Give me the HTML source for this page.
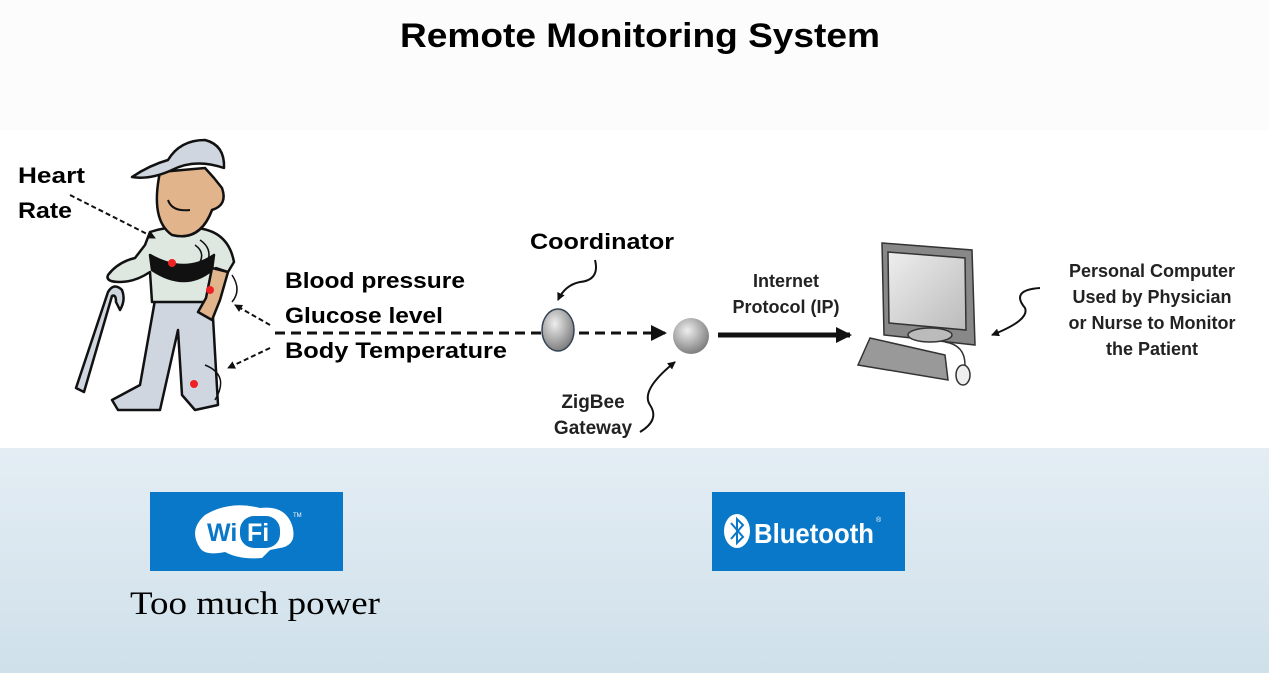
<!DOCTYPE html>
<html><head><meta charset="utf-8"><style>
html,body{margin:0;padding:0;width:1269px;height:673px;overflow:hidden;background:#fff}
svg{display:block}
.b{font-family:"Liberation Sans",sans-serif;font-weight:bold}
</style></head><body>
<svg width="1269" height="673" viewBox="0 0 1269 673" xmlns="http://www.w3.org/2000/svg">
<defs>
<linearGradient id="bg" x1="0" y1="0" x2="0" y2="1"><stop offset="0" stop-color="#e4edf4"/><stop offset="1" stop-color="#cfe0ea"/></linearGradient>
<radialGradient id="ball" cx="0.4" cy="0.35" r="0.7"><stop offset="0" stop-color="#eee"/><stop offset="1" stop-color="#777"/></radialGradient>
<linearGradient id="scr" x1="0" y1="0" x2="1" y2="1"><stop offset="0" stop-color="#eee"/><stop offset="1" stop-color="#bbb"/></linearGradient>
<marker id="ah" markerWidth="8" markerHeight="8" refX="7" refY="4" orient="auto" markerUnits="userSpaceOnUse"><path d="M0,0 L8,4 L0,8z" fill="#111"/></marker>
<marker id="ab" markerWidth="16" markerHeight="16" refX="14" refY="8" orient="auto" markerUnits="userSpaceOnUse"><path d="M0,0 L16,8 L0,16z" fill="#111"/></marker>
</defs>
<rect x="0" y="0" width="1269" height="130" fill="#fcfcfd"/>
<rect x="0" y="448" width="1269" height="225" fill="url(#bg)"/>
<text x="640" y="47" text-anchor="middle" class="b" font-size="34" fill="#000" textLength="480" lengthAdjust="spacingAndGlyphs">Remote Monitoring System</text>

<!-- person -->
<g stroke="#111" stroke-width="2.5" stroke-linejoin="round">
<path d="M76,388 L108,292 Q114,282 122,290 Q126,300 120,310 L116,302 Q116,294 112,296 L84,392z" fill="#cfd6e0"/>
<path d="M155,300 L140,385 L112,400 L118,410 L160,410 L178,330 L182,395 L195,410 L218,405 L212,300z" fill="#cfd6e0"/>
<path d="M150,232 Q170,225 195,228 Q228,230 234,262 L228,272 L216,268 L212,302 L152,302 L150,272 Q135,282 120,282 Q105,282 108,275 Q118,262 135,258 L145,245z" fill="#dfe8e0"/>
<path d="M150,255 Q185,275 214,255 L212,270 Q185,292 152,270z" fill="#111"/>
<path d="M212,268 L228,272 L220,300 L212,320 L198,312 L206,298z" fill="#e2b48c"/>
<path d="M160,172 Q150,220 172,235 Q200,242 212,210 Q228,205 222,188 L214,178 L205,168z" fill="#e2b48c"/>
<path d="M132,177 Q150,165 168,160 Q180,140 205,140 Q225,145 224,168 Q195,158 172,170 Q150,180 132,177z" fill="#cfd6e0"/>
</g>
<path d="M168,200 Q172,212 190,210" stroke="#111" fill="none" stroke-width="2"/>
<circle cx="172" cy="263" r="4" fill="#e22"/><circle cx="210" cy="290" r="4" fill="#e22"/><circle cx="194" cy="384" r="4" fill="#e22"/>
<path d="M195,245 Q205,252 200,262 M200,240 Q215,250 205,268" stroke="#111" fill="none" stroke-width="1.5"/>
<path d="M232,275 Q242,290 232,302" stroke="#111" fill="none" stroke-width="1.5"/>
<path d="M205,365 Q230,375 215,400" stroke="#111" fill="none" stroke-width="1.5"/>

<text x="18" y="183" class="b" font-size="22" textLength="67" lengthAdjust="spacingAndGlyphs">Heart</text>
<text x="18" y="218" class="b" font-size="22" textLength="54" lengthAdjust="spacingAndGlyphs">Rate</text>
<line x1="70" y1="195" x2="155" y2="238" stroke="#111" stroke-width="2" stroke-dasharray="5,3" marker-end="url(#ah)"/>
<line x1="270" y1="325" x2="235" y2="305" stroke="#111" stroke-width="2" stroke-dasharray="5,3" marker-end="url(#ah)"/>
<line x1="270" y1="348" x2="228" y2="368" stroke="#111" stroke-width="2" stroke-dasharray="5,3" marker-end="url(#ah)"/>

<text x="285" y="288" class="b" font-size="22" textLength="180" lengthAdjust="spacingAndGlyphs">Blood pressure</text>
<text x="285" y="323" class="b" font-size="22" textLength="158" lengthAdjust="spacingAndGlyphs">Glucose level</text>
<text x="285" y="358" class="b" font-size="22" textLength="222" lengthAdjust="spacingAndGlyphs">Body Temperature</text>
<line x1="275" y1="333" x2="665" y2="333" stroke="#111" stroke-width="3" stroke-dasharray="10,6" marker-end="url(#ab)"/>
<ellipse cx="558" cy="330" rx="16" ry="21" fill="url(#ball)" stroke="#345" stroke-width="1.5"/>
<circle cx="691" cy="336" r="18" fill="url(#ball)"/>
<text x="530" y="249" class="b" font-size="22" textLength="144" lengthAdjust="spacingAndGlyphs">Coordinator</text>
<path d="M595,260 Q600,280 580,282 Q565,285 558,300" stroke="#111" fill="none" stroke-width="2" marker-end="url(#ah)"/>
<text x="593" y="408" text-anchor="middle" class="b" font-size="19" fill="#222">ZigBee</text>
<text x="593" y="434" text-anchor="middle" class="b" font-size="19" fill="#222">Gateway</text>
<path d="M640,432 Q660,420 650,405 Q640,390 675,362" stroke="#111" fill="none" stroke-width="2" marker-end="url(#ah)"/>
<text x="786" y="287" text-anchor="middle" class="b" font-size="18" fill="#222">Internet</text>
<text x="786" y="313" text-anchor="middle" class="b" font-size="18" fill="#222">Protocol (IP)</text>
<line x1="718" y1="335" x2="850" y2="335" stroke="#111" stroke-width="5" marker-end="url(#ab)"/>

<!-- computer -->
<g stroke="#333" stroke-width="1.5">
<path d="M882,243 L972,250 L975,345 L884,335z" fill="#888"/>
<path d="M888,252 L965,258 L966,330 L889,323z" fill="url(#scr)"/>
<ellipse cx="930" cy="335" rx="22" ry="7" fill="#bbb"/>
<path d="M870,338 L945,355 L948,380 L858,365z" fill="#999"/>
<ellipse cx="963" cy="375" rx="7" ry="10" fill="#eee"/>
</g>
<path d="M945,342 Q965,345 965,365" stroke="#333" fill="none" stroke-width="1.5"/>
<text x="1152" y="277" text-anchor="middle" class="b" font-size="18" fill="#222">Personal Computer</text>
<text x="1152" y="303" text-anchor="middle" class="b" font-size="18" fill="#222">Used by Physician</text>
<text x="1152" y="329" text-anchor="middle" class="b" font-size="18" fill="#222">or Nurse to Monitor</text>
<text x="1152" y="355" text-anchor="middle" class="b" font-size="18" fill="#222">the Patient</text>
<path d="M1040,288 Q1010,290 1025,308 Q1030,320 992,335" stroke="#111" fill="none" stroke-width="2" marker-end="url(#ah)"/>

<!-- logos -->
<rect x="150" y="492" width="193" height="79" fill="#0a78c8"/>
<path d="M200,548 Q188,530 205,515 Q230,500 260,508 Q285,505 292,525 Q298,545 280,548 L270,550 L262,558 Q240,560 225,552 Q205,556 200,548z" fill="#fff"/>
<text x="207" y="541" font-family="Liberation Sans,sans-serif" font-weight="bold" font-size="25" fill="#0a78c8">Wi</text>
<rect x="240" y="516" width="40" height="32" rx="14" fill="#0a78c8"/>
<text x="247" y="541" font-family="Liberation Sans,sans-serif" font-weight="bold" font-size="25" fill="#fff">Fi</text>
<text x="293" y="517" font-family="Liberation Sans,sans-serif" font-size="6" fill="#fff">TM</text>
<rect x="712" y="492" width="193" height="79" fill="#0a78c8"/>
<ellipse cx="737" cy="531" rx="13" ry="17" fill="#fff"/>
<path d="M731,523 L743,537 L737,543 L737,519 L743,525 L731,539" stroke="#0a78c8" stroke-width="2" fill="none"/>
<text x="754" y="543" font-family="Liberation Sans,sans-serif" font-weight="bold" font-size="28" fill="#fff" textLength="120" lengthAdjust="spacingAndGlyphs">Bluetooth</text>
<text x="876" y="522" font-family="Liberation Sans,sans-serif" font-size="7" fill="#fff">®</text>
<text x="130" y="614" font-family="Liberation Serif,serif" font-size="33" fill="#000" textLength="250" lengthAdjust="spacingAndGlyphs">Too much power</text>
</svg>
</body></html>
